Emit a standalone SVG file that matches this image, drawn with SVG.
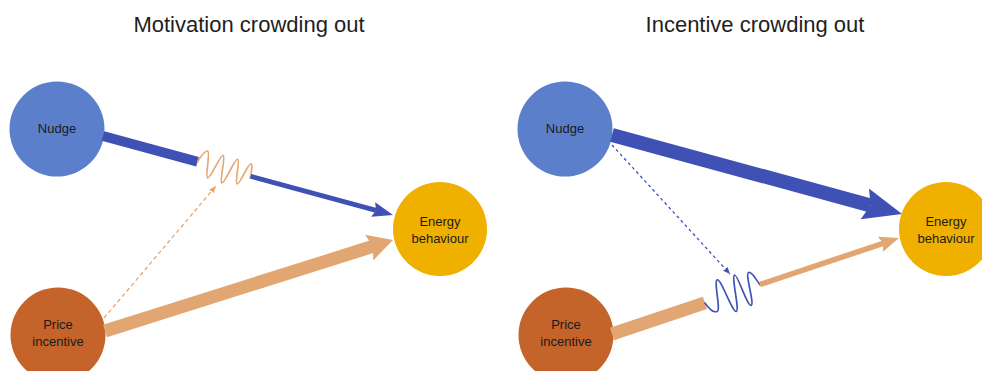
<svg xmlns="http://www.w3.org/2000/svg" width="982" height="371" viewBox="0 0 982 371">
<style>
.title{font-family:"Liberation Sans",Arial,sans-serif;font-size:22px;fill:#1e1e1e;text-anchor:middle}
.lbl{font-family:"Liberation Sans",Arial,sans-serif;font-size:13px;fill:#1b1b1b;text-anchor:middle}
.nudge{fill:#5B7FCA}
.price{fill:#C4632A}
.energy{fill:#EFB000}
.blue{fill:#3F51B5}
.orange{fill:#E2A672}
.spring-o{fill:none;stroke:#E6A870;stroke-width:1.7;stroke-linecap:round}
.spring-b{fill:none;stroke:#4254B8;stroke-width:1.7;stroke-linecap:round}
.dash-o{stroke:#E8A56C;stroke-width:1.3;stroke-dasharray:4 3;fill:none}
.dash-b{stroke:#4052B5;stroke-width:1.3;stroke-dasharray:3 3;fill:none}
</style>
<defs>
<marker id="ahO" markerUnits="userSpaceOnUse" markerWidth="8" markerHeight="7" refX="7" refY="3" orient="auto"><path d="M0,0 L7,3 L0,6 z" fill="#E8A56C"/></marker>
<marker id="ahB" markerUnits="userSpaceOnUse" markerWidth="8" markerHeight="7" refX="7" refY="3" orient="auto"><path d="M0,0 L7,3 L0,6 z" fill="#4052B5"/></marker>
</defs>
<rect width="982" height="371" fill="#ffffff"/>
<text class="title" x="249" y="32">Motivation crowding out</text>
<text class="title" x="755" y="32">Incentive crowding out</text>

<g id="nudge-left"><circle class="nudge" cx="57" cy="129" r="47.5"/><text class="lbl" x="57" y="133">Nudge</text></g>
<g id="price-left"><circle class="price" cx="58" cy="335" r="47.5"/><text class="lbl" x="58" y="329">Price</text><text class="lbl" x="58" y="346">incentive</text></g>
<g id="energy-left"><circle class="energy" cx="440" cy="229" r="47"/><text class="lbl" x="440" y="226">Energy</text><text class="lbl" x="440" y="243">behaviour</text></g>

<g id="nudge-right"><circle class="nudge" cx="565" cy="129" r="47.5"/><text class="lbl" x="565" y="133">Nudge</text></g>
<g id="price-right"><circle class="price" cx="566" cy="335" r="47.5"/><text class="lbl" x="566" y="329">Price</text><text class="lbl" x="566" y="346">incentive</text></g>
<g id="energy-right"><circle class="energy" cx="946" cy="229" r="47"/><text class="lbl" x="946" y="226">Energy</text><text class="lbl" x="946" y="243">behaviour</text></g>

<g id="connectors">
  <!-- left: nudge -> energy, crowded out -->
  <g transform="translate(103,136) rotate(15.24)">
    <rect class="blue" x="0" y="-5" width="98" height="10"/>
    <path class="spring-o" transform="translate(98,0)" d="M0,0 C2,-7 4,-13 7,-13 C10,-13 11,13 14,13 C17,13 20,-13 23,-13 C26,-13 26,14 29,14 C32,14 35,-13 38,-13 C41,-13 41,11 44,11 C47,11 49,-12 52,-12 C54,-12 55,-3 55,2"/>
    <rect class="blue" x="153" y="-2.4" width="130" height="4.8"/>
    <polygon class="blue" points="280,-7.5 300.6,0 280,7.5 283,0"/>
  </g>
  <!-- left: price dashed to spring -->
  <line class="dash-o" x1="104" y1="318" x2="216" y2="186" marker-end="url(#ahO)"/>
  <!-- left: price -> energy -->
  <g transform="translate(105,331) rotate(-17.53)">
    <rect class="orange" x="0" y="-6.5" width="282" height="13"/>
    <polygon class="orange" points="277,-13.5 302,0 277,13.5 281,0"/>
  </g>

  <!-- right: nudge -> energy -->
  <g transform="translate(612,135) rotate(15.24)">
    <rect class="blue" x="0" y="-7" width="268" height="14"/>
    <polygon class="blue" points="262,-16 300.6,0 262,16 268,0"/>
  </g>
  <!-- right: nudge dotted to spring -->
  <line class="dash-b" x1="612" y1="145" x2="730" y2="274" marker-end="url(#ahB)"/>
  <!-- right: price -> energy, crowded out -->
  <g transform="translate(612,334) rotate(-18.49)">
    <rect class="orange" x="0" y="-6.5" width="98" height="13"/>
    <path class="spring-b" transform="translate(98,0)" d="M0,0 C3,9 5,12 9,12 C13,12 15,-18 19,-18 C23,-18 23,18 27,18 C31,18 33,-17 37,-17 C40,-17 39,17 43,17 C47,17 47,-15 51,-15 C55,-15 56,-4 58,0"/>
    <rect class="orange" x="156" y="-2.8" width="130" height="5.6"/>
    <polygon class="orange" points="283,-8 302.6,0 283,8 286,0"/>
  </g>
</g>
</svg>
